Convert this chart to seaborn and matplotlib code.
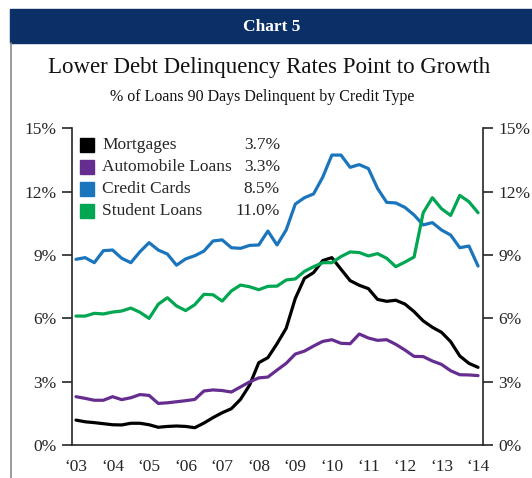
import numpy as np
import pandas as pd
import matplotlib
matplotlib.use("Agg")
import matplotlib.pyplot as plt
import seaborn as sns
from matplotlib.patches import Rectangle

# quarterly, 2003Q1 .. 2014Q1 (% of balance 90+ days delinquent)
mortgages = [1.18, 1.10, 1.06, 1.01, 0.96, 0.95, 1.03, 1.03, 0.96, 0.84,
             0.88, 0.90, 0.88, 0.82, 1.04, 1.30, 1.53, 1.72, 2.16, 2.84,
             3.90, 4.14, 4.80, 5.53, 6.95, 7.90, 8.17, 8.74, 8.88, 8.33,
             7.79, 7.57, 7.41, 6.90, 6.81, 6.86, 6.68, 6.32, 5.88, 5.58,
             5.34, 4.90, 4.22, 3.87, 3.68]
auto_loans = [2.29, 2.21, 2.12, 2.12, 2.29, 2.15, 2.24, 2.39, 2.35, 1.97,
              2.00, 2.05, 2.10, 2.16, 2.56, 2.61, 2.58, 2.51, 2.75, 2.99,
              3.18, 3.22, 3.55, 3.87, 4.31, 4.45, 4.69, 4.91, 4.99, 4.82,
              4.80, 5.26, 5.07, 4.96, 4.99, 4.77, 4.50, 4.20, 4.19, 3.98,
              3.82, 3.52, 3.33, 3.32, 3.29]
credit_cards = [8.80, 8.88, 8.64, 9.21, 9.24, 8.85, 8.64, 9.16, 9.59, 9.24,
                9.05, 8.52, 8.82, 8.97, 9.19, 9.67, 9.72, 9.35, 9.32, 9.46,
                9.48, 10.14, 9.48, 10.19, 11.42, 11.72, 11.90, 12.69, 13.74, 13.74,
                13.16, 13.29, 13.10, 12.16, 11.50, 11.47, 11.26, 10.90, 10.43, 10.54,
                10.19, 9.95, 9.35, 9.43, 8.48]
student_loans = [6.11, 6.11, 6.24, 6.21, 6.30, 6.35, 6.49, 6.29, 6.00, 6.67,
                 6.98, 6.59, 6.37, 6.65, 7.14, 7.12, 6.82, 7.30, 7.58, 7.50,
                 7.36, 7.52, 7.53, 7.82, 7.87, 8.23, 8.45, 8.64, 8.64, 8.93,
                 9.15, 9.12, 8.96, 9.07, 8.85, 8.45, 8.67, 8.91, 11.01, 11.72,
                 11.20, 10.88, 11.83, 11.53, 11.01]

series_names = ["Mortgages", "Automobile Loans", "Credit Cards", "Student Loans"]
latest = ["3.7%", "3.3%", "8.5%", "11.0%"]
colors = ["#000000", "#662d91", "#1b75bc", "#00a651"]
year_labels = ["\u201803", "\u201804", "\u201805", "\u201806", "\u201807", "\u201808",
               "\u201809", "\u201810", "\u201811", "\u201812", "\u201813", "\u201814"]
y_ticks = [0, 3, 6, 9, 12, 15]

dates = pd.date_range("2003-01-01", periods=len(mortgages), freq="QS")
t = dates.year + (dates.month - 1) / 12.0

frames = []
for name, vals in zip(series_names, [mortgages, auto_loans, credit_cards, student_loans]):
    frames.append(pd.DataFrame({"t": t, "rate": vals, "type": name}))
df = pd.concat(frames, ignore_index=True)

sns.set_style("ticks")
plt.rcParams["font.family"] = ["Liberation Serif", "DejaVu Serif"]

W, H = 532, 478
fig = plt.figure(figsize=(W / 100, H / 100), dpi=100)


def fx(px):
    return px / W


def fy(py):
    return 1 - py / H


# banner + left rule
fig.patches.append(Rectangle((fx(10), fy(43)), fx(W) - fx(10), fy(9) - fy(43),
                             transform=fig.transFigure, color="#0b3068", zorder=0))
fig.lines.append(plt.Line2D([fx(10.5), fx(10.5)], [fy(43), 0], transform=fig.transFigure,
                            color="#8a8a8a", lw=1.2))
fig.text(fx(272), fy(27), "Chart 5", color="white", fontsize=12.5, fontweight="bold",
         ha="center", va="center")
fig.text(fx(269), fy(67), "Lower Debt Delinquency Rates Point to Growth", fontsize=16.5,
         ha="center", va="center", color="#111111")
fig.text(fx(262), fy(97), "% of Loans 90 Days Delinquent by Credit Type", fontsize=11.5,
         ha="center", va="center", color="#111111")

ax = fig.add_axes([fx(72), 1 - 445 / H, (483 - 72) / W, (445 - 128.5) / H])
sns.lineplot(data=df, x="t", y="rate", hue="type", palette=colors, linewidth=2.3,
             ax=ax, legend=False)

ax.set_xlim(2003 - 4 / 36.55, 2003 + 407 / 36.55)
ax.set_ylim(0, 15)
ax.set_xticks(np.arange(2003, 2015))
ax.set_xticklabels(year_labels)
ax.set_yticks(y_ticks)
ax.set_yticklabels([f"{v}%" for v in y_ticks])
ax.tick_params(axis="x", length=0, pad=10, labelsize=12.5)
ax.tick_params(axis="y", length=7, width=1.2, direction="out", labelsize=12.5, pad=4,
               right=True, labelright=True)
ax.set_xlabel("")
ax.set_ylabel("")
ax.spines["top"].set_visible(False)
for s in ["left", "right", "bottom"]:
    ax.spines[s].set_linewidth(1.2)

# legend block
rows = [145, 167, 189, 211]
for yy, name, val, c in zip(rows, series_names, latest, colors):
    fig.patches.append(Rectangle((fx(80), fy(yy + 7)), fx(14), fy(0) - fy(14),
                                 transform=fig.transFigure, color=c))
    fig.text(fx(102), fy(yy), name, fontsize=12.5, va="center", ha="left")
    fig.text(fx(280), fy(yy), val, fontsize=12.5, va="center", ha="right")

fig.savefig("out.png", dpi=100)
